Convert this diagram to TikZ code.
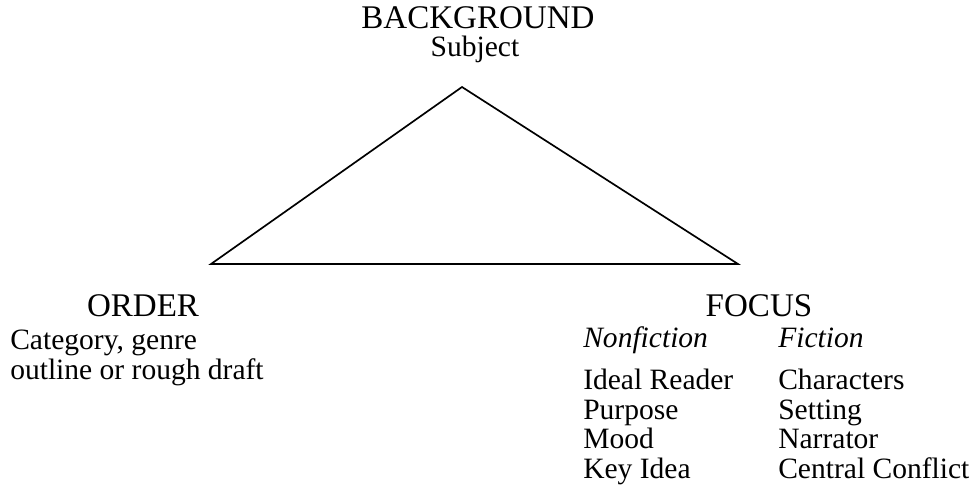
\documentclass[tikz,border=0pt]{standalone}
\usepackage{fontspec}
\setmainfont{Liberation Serif}
\usepackage{tikz}
\usetikzlibrary{positioning}

\begin{document}
\begin{tikzpicture}[x=0.025cm, y=-0.025cm,
    head/.style={font=\fontsize{23.5}{25}\selectfont, anchor=base, inner sep=0pt},
    body/.style={font=\fontsize{21}{22}\selectfont, anchor=base west, inner sep=0pt}]

        \useasboundingbox (0,0) rectangle (980,489);

        \coordinate (apex) at (462,87);
        \coordinate (leftc) at (211,264);
        \coordinate (rightc) at (738,264);

        \draw[line width=1.2pt, line join=miter] (apex) -- (leftc) -- (rightc) -- cycle;

        % top corner
        \node[head] (background) at (478,28) {BACKGROUND};
        \node[body, anchor=base] (subject) at (475,56) {Subject};

        % left corner
        \node[head] (order) at (143,316) {ORDER};
        \node[body] (category) at (10,349) {Category, genre};
        \node[body] (outline) at (10,379) {outline or rough draft};

        % right corner
        \node[head] (focus) at (759,316) {FOCUS};
        \node[body] (nonfiction) at (583,347) {\itshape Nonfiction};
        \node[body] (fiction) at (778,347) {\itshape Fiction};

        \foreach \txt [count=\i] in {Ideal Reader, Purpose, Mood, Key Idea}
            \node[body] (nonf\i) at (583,360+29.5*\i) {\txt};

        \foreach \txt [count=\i] in {Characters, Setting, Narrator, Central Conflict}
            \node[body] (fict\i) at (778,360+29.5*\i) {\txt};

\end{tikzpicture}
\end{document}
